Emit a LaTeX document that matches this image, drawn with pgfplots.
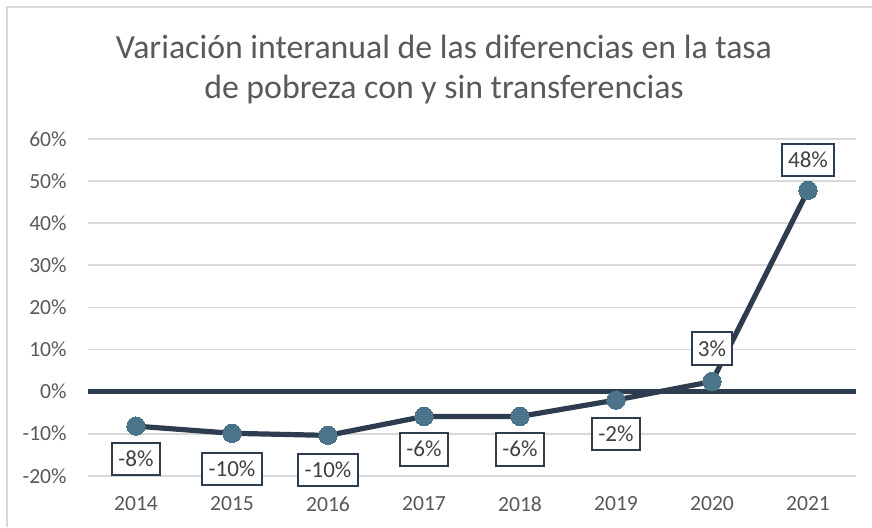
\documentclass[border=0pt]{standalone}
\usepackage{fontspec}
\setmainfont{Carlito}
\usepackage{pgfplots}
\usepackage{pgfplotstable}
\pgfplotsset{compat=1.18}
\definecolor{navy}{HTML}{2E3C50}
\definecolor{marker}{HTML}{4B7389}
\definecolor{gridc}{HTML}{D9D9D9}
\definecolor{txt}{HTML}{595959}
\definecolor{lbltxt}{HTML}{404040}
\pgfplotstableread{
x y lbl dy
0 -8.2 -8 -16.5
1 -9.9 -10 -18
2 -10.4 -10 -17.5
3 -5.9 -6 -16.5
4 -5.9 -6 -16.5
5 -2.0 -2 -17
6 2.4 3 16.5
7 47.8 48 15
}\datatable
\begin{document}
\begin{tikzpicture}
\path[use as bounding box] (0,0) rectangle (436pt,263.5pt);
\draw[gridc, line width=1pt] (3.5pt,0) -- (3.5pt,260.25pt) -- (436pt,260.25pt);
\node[align=center, text=txt, font=\fontsize{16.9pt}{20pt}\selectfont] at (222pt,229pt)
  {Variación interanual de las diferencias en la tasa\\de pobreza con y sin transferencias};
\begin{axis}[
  at={(44pt,25.6pt)}, anchor=south west,
  scale only axis, width=384pt, height=168.4pt,
  xmin=-0.5, xmax=7.5, ymin=-20, ymax=60,
  axis line style={draw=none},
  major tick length=0pt,
  xtick={0,...,7},
  xticklabels={2014,2015,2016,2017,2018,2019,2020,2021},
  ytick={-20,-10,...,60},
  yticklabel={\pgfmathprintnumber{\tick}\%},
  /pgf/number format/assume math mode=true,
  ymajorgrids, grid style={gridc, line width=0.9pt},
  tick label style={text=txt, font=\fontsize{10.8pt}{12pt}\selectfont},
  yticklabel style={anchor=east, inner sep=0pt, xshift=-10.5pt},
  xticklabel style={anchor=north, inner sep=0pt, yshift=-10.2pt},
  clip=false,
]
\addplot[navy, line width=2.5pt, forget plot] coordinates {(-0.5,0) (7.5,0)};
\addplot[navy, line width=2.6pt, mark=*, mark size=4.6pt,
  mark options={fill=marker, draw=marker, line width=0pt},
  point meta=explicit symbolic,
  visualization depends on={\thisrow{dy} \as \dy},
  nodes near coords={\pgfplotspointmeta\%},
  nodes near coords style={anchor=center, yshift=\dy pt, draw=navy, line width=1pt,
    fill=white, text=lbltxt, font=\fontsize{11.5pt}{13pt}\selectfont,
    inner xsep=3.2pt, inner ysep=4.3pt, text height=7.5pt, text depth=0pt},
] table[x=x, y=y, meta=lbl] {\datatable};
\end{axis}
\end{tikzpicture}
\end{document}
